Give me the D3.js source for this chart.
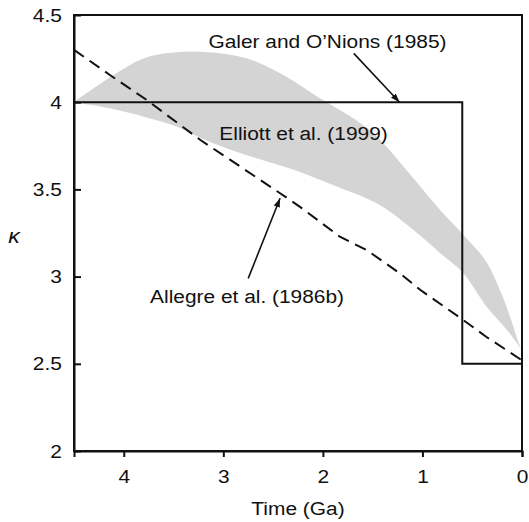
<!DOCTYPE html>
<html>
<head>
<meta charset="utf-8">
<script src="https://cdn.jsdelivr.net/npm/d3@7"></script>
<style>
  body { margin: 0; background: #fff; }
  svg text { font-family: "Liberation Sans", Arial, Helvetica, sans-serif; fill: #111; }
</style>
</head>
<body>
<svg id="chart" width="529" height="522"></svg>
<script>
// Evolution of the mantle Th/U ratio (kappa) through time, three models.

// Elliott et al. (1999) envelope: upper and lower edges
const upperTime  = [4.5, 3.82, 3.47, 3.15, 2.77, 2.43, 2.05, 1.53, 1.13, 0.82, 0.59, 0.36, 0.22, 0.12, 0.02, 0];
const upperKappa = [4.0, 4.246, 4.286, 4.286, 4.252, 4.166, 4.03, 3.84, 3.59, 3.38, 3.24, 3.087, 2.92, 2.77, 2.6, 2.58];
const lowerTime  = [4.5, 4.14, 3.80, 3.47, 3.17, 2.87, 2.50, 2.23, 1.90, 1.46, 1.13, 0.82, 0.59, 0.36, 0.15, 0];
const lowerKappa = [4.0, 3.965, 3.917, 3.86, 3.78, 3.716, 3.65, 3.60, 3.525, 3.42, 3.286, 3.134, 3.02, 2.83, 2.694, 2.58];

// Allegre et al. (1986b) curve
const allegreTime  = [4.5, 4.14, 3.77, 3.23, 2.93, 2.43, 2.23, 1.83, 1.56, 1.23, 1.02, 0.59, 0.36, 0];
const allegreKappa = [4.30, 4.156, 4.013, 3.783, 3.669, 3.478, 3.40, 3.229, 3.152, 3.02, 2.923, 2.751, 2.655, 2.52];

// Galer and O'Nions (1985) two-stage model
const galerTime  = [4.5, 0.6, 0.6, 0];
const galerKappa = [4.0, 4.0, 2.5, 2.5];

// Axis ticks
const timeTicks  = [4, 3, 2, 1, 0];
const kappaTicks = [2, 2.5, 3, 3.5, 4, 4.5];

// Annotation texts
const labelGaler   = "Galer and O\u2019Nions (1985)";
const labelElliott = "Elliott et al. (1999)";
const labelAllegre = "Allegre et al. (1986b)";

const W = 529, H = 522;
const margin = { left: 74, right: 7, top: 15, bottom: 71 };
const FONT = 19, SX = 1.1;

const svg = d3.select("#chart");

const x = d3.scaleLinear().domain([4.5, 0]).range([margin.left, W - margin.right]);
const y = d3.scaleLinear().domain([2, 4.5]).range([H - margin.bottom, margin.top]);

const defs = svg.append("defs");
defs.append("marker")
  .attr("id", "head")
  .attr("viewBox", "0 -4 9 8")
  .attr("refX", 9).attr("refY", 0)
  .attr("markerWidth", 9).attr("markerHeight", 8)
  .attr("markerUnits", "userSpaceOnUse")
  .attr("orient", "auto")
  .append("path").attr("d", "M0,-3.2L9,0L0,3.2Z").attr("fill", "#111");

// Envelope: smooth upper edge, then smooth lower edge back to the start
const edge = d3.line().x(d => x(d[0])).y(d => y(d[1])).curve(d3.curveCatmullRom.alpha(0.5));
const upperPts = upperTime.map((t, i) => [t, upperKappa[i]]);
const lowerPts = lowerTime.map((t, i) => [t, lowerKappa[i]]).reverse();
svg.append("path")
  .attr("d", edge(upperPts) + edge(lowerPts).replace(/^M/, "L") + "Z")
  .attr("fill", "#d4d4d4");

// Galer and O'Nions step
svg.append("path")
  .attr("d", d3.line().x(d => x(d[0])).y(d => y(d[1]))(galerTime.map((t, i) => [t, galerKappa[i]])))
  .attr("fill", "none").attr("stroke", "#111").attr("stroke-width", 2);

// Allegre dashed curve
svg.append("path")
  .attr("d", d3.line().x(d => x(d[0])).y(d => y(d[1]))(allegreTime.map((t, i) => [t, allegreKappa[i]])))
  .attr("fill", "none").attr("stroke", "#111").attr("stroke-width", 2)
  .attr("stroke-dasharray", "12,7");

// Frame
svg.append("rect")
  .attr("x", x(4.5)).attr("y", y(4.5))
  .attr("width", x(0) - x(4.5)).attr("height", y(2) - y(4.5))
  .attr("fill", "none").attr("stroke", "#111").attr("stroke-width", 2);

// Axes
const gx = svg.append("g")
  .attr("transform", `translate(0,${y(2)})`)
  .call(d3.axisBottom(x).tickValues(timeTicks).tickSizeInner(6).tickSizeOuter(6).tickPadding(13)
    .tickFormat(d3.format("d")));
const gy = svg.append("g")
  .attr("transform", `translate(${x(4.5)},0)`)
  .call(d3.axisLeft(y).tickValues(kappaTicks).tickSizeInner(-7).tickSizeOuter(0).tickPadding(11)
    .tickFormat(d => String(d)));

[gx, gy].forEach(g => {
  g.selectAll("path, line").attr("stroke", "#111").attr("stroke-width", 2);
  g.selectAll("text").attr("font-size", FONT).attr("fill", "#111")
    .attr("transform", `scale(${SX},1)`);
});
gy.selectAll("text").attr("x", -11);

// Axis titles
svg.append("text")
  .attr("transform", `translate(${(x(4.5) + x(0)) / 2},515) scale(${SX},1)`)
  .attr("text-anchor", "middle").attr("font-size", FONT)
  .text("Time (Ga)");
svg.append("text")
  .attr("transform", `translate(14,243) scale(${SX},1)`)
  .attr("text-anchor", "middle").attr("font-size", 21).attr("font-style", "italic")
  .attr("font-family", "'DejaVu Serif', 'Liberation Serif', serif")
  .text("\u03BA");

// Annotation labels, anchored at (time, kappa) of their baseline start
function label(txt, t, k) {
  svg.append("text")
    .attr("transform", `translate(${x(t)},${y(k)}) scale(${SX},1)`)
    .attr("font-size", FONT)
    .text(txt);
}
label(labelGaler, 3.15, 4.308);
label(labelElliott, 3.04, 3.783);
label(labelAllegre, 3.736, 2.85);

// Arrows
function arrow(t0, k0, t1, k1) {
  svg.append("line")
    .attr("x1", x(t0)).attr("y1", y(k0))
    .attr("x2", x(t1)).attr("y2", y(k1))
    .attr("stroke", "#111").attr("stroke-width", 1.6)
    .attr("marker-end", "url(#head)");
}
arrow(1.69, 4.28, 1.23, 4.0);
arrow(2.75, 2.99, 2.43, 3.449);
</script>
</body>
</html>
